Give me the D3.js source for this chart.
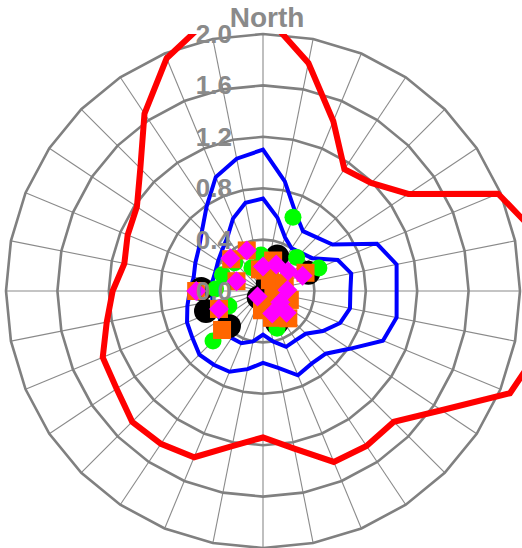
<!DOCTYPE html>
<html><head><meta charset="utf-8">
<script src="https://cdn.jsdelivr.net/npm/d3@7"></script>
<style>html,body{margin:0;padding:0;background:#fff;overflow:hidden}</style>
</head><body>
<svg id="chart" width="522" height="548"></svg>
<script>
// ---- data ----
const directions = d3.range(32).map(i => i * 11.25); // degrees clockwise from North
const radialTicks = [0.0, 0.4, 0.8, 1.2, 1.6, 2.0];
const tickLabels = ["0.0", "0.4", "0.8", "1.2", "1.6", "2.0"];
const titleText = "North";

const redValues = [2.17,1.81,1.43,1.14,1.19,1.36,1.98,2.19,2.30,2.21,2.08,1.67,1.44,1.45,1.44,1.25,
                   1.14,1.23,1.40,1.43,1.44,1.37,1.35,1.24,1.17,1.10,1.14,1.18,1.35,1.66,1.96,2.16];
const blueOuterValues = [1.10,0.87,0.66,0.56,0.59,0.65,0.96,1.06,1.04,1.06,1.01,0.81,0.69,0.68,0.71,0.61,
                   0.56,0.62,0.68,0.69,0.70,0.66,0.64,0.60,0.57,0.55,0.57,0.60,0.67,0.79,0.96,1.05];
const blueInnerValues = [0.72,0.58,0.45,0.40,0.42,0.46,0.63,0.70,0.68,0.69,0.65,0.56,0.47,0.46,0.47,0.40,
                   0.34,0.40,0.44,0.44,0.42,0.40,0.40,0.40,0.40,0.40,0.40,0.42,0.45,0.50,0.61,0.70];

// [direction deg, value]
const blackPts = [[271.8,0.48],[250.7,0.47],[224.2,0.38],[22.4,0.29],[68.2,0.38],[213.7,0.06],[156.4,0.27],[32,0.07]];
const greenPts = [[22.1,0.62],[225,0.55],[272.4,0.37],[291.8,0.34],[334.4,0.20],[246.2,0.29],[356.8,0.28],
                  [45,0.37],[67.7,0.47],[159.3,0.31],[315,0.31]];
const orangePts = [[270,0.52],[247.8,0.37],[226.4,0.44],[315,0.35],[338.2,0.34],[290.3,0.22],[18.4,0.25],
                   [66.8,0.36],[32.5,0.10],[116.6,0.09],[129.8,0.18],[161.6,0.22],[137.2,0.29],[185,0.09],[351.9,0.17],
                   [5.4,0.16],[70,0.18],[183,0.15],[108.4,0.22]];
const magentaPts = [[270,0.52],[247.8,0.37],[315,0.36],[338.2,0.34],[290.3,0.22],[0,0.19],[26.6,0.23],
                    [51.3,0.25],[69,0.33],[87.6,0.19],[225,0.06],[122.9,0.16],[157.8,0.19],[132.5,0.25]];

// ---- drawing ----
const W = 522, H = 548, cx = 263, cy = 291, R = 257;
const svg = d3.select("#chart");
const r = d3.scaleLinear().domain([0, 2.0]).range([0, R]);
const rad = d => d * Math.PI / 180;
const px = (a, v) => cx + r(v) * Math.sin(rad(a));
const py = (a, v) => cy - r(v) * Math.cos(rad(a));

const g = svg.append("g").attr("transform", `translate(${cx},${cy})`);

// spokes
g.selectAll("line.spoke").data(directions).enter().append("line")
  .attr("x1", 0).attr("y1", 0)
  .attr("x2", a => r(2.0) * Math.sin(rad(a)))
  .attr("y2", a => -r(2.0) * Math.cos(rad(a)))
  .attr("stroke", "#8a8a8a").attr("stroke-width", 1.1);

// rings (32-gon)
const ringLine = d3.lineRadial().angle(a => rad(a)).curve(d3.curveLinearClosed);
g.selectAll("path.ring").data(radialTicks.filter(t => t > 0)).enter().append("path")
  .attr("d", t => ringLine.radius(() => r(t))(directions))
  .attr("fill", "none").attr("stroke", "#808080").attr("stroke-width", 2.6);

// clip
svg.append("clipPath").attr("id", "clip").append("rect")
  .attr("x", 0).attr("y", cy - R).attr("width", W).attr("height", H);

const series = svg.append("g").attr("clip-path", "url(#clip)")
  .append("g").attr("transform", `translate(${cx},${cy})`);
const curve = d3.lineRadial().angle((d, i) => rad(directions[i])).radius(d => r(d)).curve(d3.curveLinearClosed);

series.append("path").attr("d", curve(redValues)).attr("fill", "none")
  .attr("stroke", "#ff0000").attr("stroke-width", 6).attr("stroke-linejoin", "miter");
series.append("path").attr("d", curve(blueOuterValues)).attr("fill", "none")
  .attr("stroke", "#0000ff").attr("stroke-width", 4);
series.append("path").attr("d", curve(blueInnerValues)).attr("fill", "none")
  .attr("stroke", "#0000ff").attr("stroke-width", 4);

// markers
const mk = svg.append("g");
mk.selectAll("circle.black").data(blackPts).enter().append("circle")
  .attr("cx", d => px(d[0], d[1])).attr("cy", d => py(d[0], d[1])).attr("r", 12).attr("fill", "#000");
mk.selectAll("circle.green").data(greenPts).enter().append("circle")
  .attr("cx", d => px(d[0], d[1])).attr("cy", d => py(d[0], d[1])).attr("r", 8.5).attr("fill", "#00ff00");
mk.selectAll("rect.orange").data(orangePts).enter().append("rect")
  .attr("x", d => px(d[0], d[1]) - 9).attr("y", d => py(d[0], d[1]) - 9)
  .attr("width", 18).attr("height", 18).attr("fill", "#ff6600");
const dia = d3.symbol().type(d3.symbolSquare).size(200);
mk.selectAll("path.magenta").data(magentaPts).enter().append("path")
  .attr("d", dia)
  .attr("transform", d => `translate(${px(d[0], d[1])},${py(d[0], d[1])}) rotate(45)`)
  .attr("fill", "#ff00ff");

// labels
svg.selectAll("text.tick").data(radialTicks).enter().append("text")
  .attr("x", cx - 31).attr("y", t => cy - r(t) + 9)
  .attr("text-anchor", "end")
  .attr("font-family", "Liberation Sans, Arial, sans-serif").attr("font-weight", "bold")
  .attr("font-size", 26).attr("fill", "#8a8a8a")
  .text((t, i) => tickLabels[i]);

svg.append("text").attr("x", 267).attr("y", 27).attr("text-anchor", "middle")
  .attr("font-family", "Liberation Sans, Arial, sans-serif").attr("font-weight", "bold")
  .attr("font-size", 28).attr("fill", "#8a8a8a").text(titleText);
</script>
</body></html>
